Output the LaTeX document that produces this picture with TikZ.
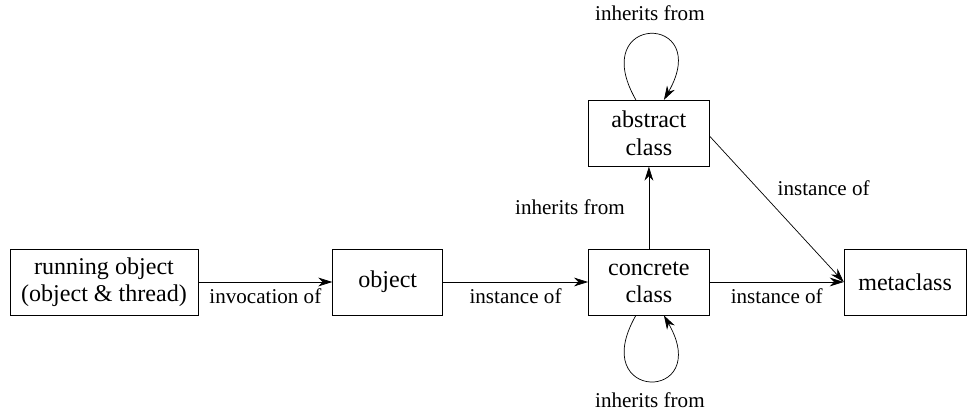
\documentclass[tikz,border=0pt]{standalone}
\usepackage{fontspec}
\setmainfont{Liberation Serif}
\usetikzlibrary{%
	arrows.meta,%
	positioning,%
}
\tikzset{
	>={Stealth[length=8pt,width=5pt,inset=2.5pt]},%
	nodes={align=center},%
	classbox/.style={%
			draw,%
			rectangle,%
			minimum height=1.32cm,%
			font={\fontsize{13.7}{15.5}\selectfont}},%
	edgelabel/.style={%
			font={\fontsize{12}{14}\selectfont}},%
}

\begin{document}
\begin{tikzpicture}
	\useasboundingbox (0,0) rectangle (19.36,8.28);
	\node[classbox, minimum width=3.76cm] (run) at (2.08,2.64) {running object\\(object \& thread)};
	\node[classbox, minimum width=2.2cm] (obj) [right=2.68cm of run] {object};
	\node[classbox, minimum width=2.42cm] (conc) [right=2.9cm of obj] {concrete\\class};
	\node[classbox, minimum width=2.42cm] (abs) [above=1.64cm of conc] {abstract\\class};
	\node[classbox, minimum width=2.44cm] (meta) [right=2.68cm of conc] {metaclass};

	\draw[->] (run) to node[edgelabel, below] {invocation of} (obj);
	\draw[->] (obj) to node[edgelabel, below] {instance of} (conc);
	\draw[->] (conc) to node[edgelabel, below] {instance of} (meta);
	\draw[->] (conc) to node[edgelabel, left, xshift=-0.36cm] {inherits from} (abs);
	\draw[->] ([yshift=-0.06cm]abs.east) to node[edgelabel, above right, xshift=-3pt, yshift=4pt] {instance of} (meta.west);
	\draw[->] ([xshift=-0.26cm]abs.north) .. controls +(-1.0,1.75) and +(1.0,1.75) .. ([xshift=0.3cm]abs.north) node[edgelabel, midway, above, yshift=4pt] {inherits from};
	\draw[->] ([xshift=-0.26cm]conc.south) .. controls +(-1.0,-1.75) and +(1.0,-1.75) .. ([xshift=0.3cm]conc.south) node[edgelabel, midway, below, yshift=-3pt] {inherits from};
\end{tikzpicture}
\end{document}
